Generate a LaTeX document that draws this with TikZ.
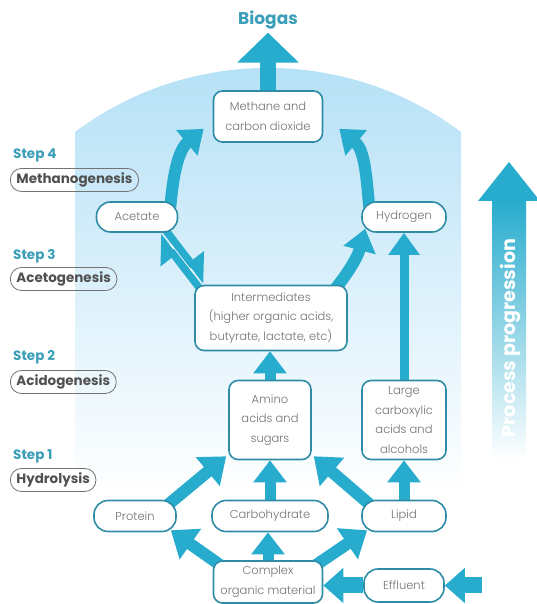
\documentclass[tikz,border=0pt]{standalone}
\usepackage{fontspec}
\setmainfont{Poppins}
\newfontfamily\lightfont{Poppins Light}
\usetikzlibrary{arrows.meta,calc}
\definecolor{arrowc}{RGB}{40,172,206}
\definecolor{boxc}{RGB}{46,140,166}
\definecolor{bgblue}{RGB}{182,225,246}
\definecolor{stepc}{RGB}{58,158,184}
\definecolor{textc}{RGB}{115,115,115}
\definecolor{labelc}{RGB}{80,80,80}
\pgfdeclarelayer{back}
\pgfdeclarelayer{bg}
\pgfsetlayers{back,bg,main}
\begin{document}
\begin{tikzpicture}[x=1pt,y=1pt,
    box/.style={draw=boxc, line width=1.6pt, fill=white, rounded corners=9pt,
      align=center, text=textc, inner sep=0pt,
      font=\lightfont\fontsize{11.5}{19.5}\selectfont},
    pill/.style={box, rounded corners=14pt},
    flow/.style={draw=arrowc, line width=11pt, -{Triangle[width=32pt,length=22pt]}},
    diag/.style={flow, line width=12pt, -{Triangle[width=36pt,length=24pt]}},
    half/.style={draw=arrowc, line width=7.5pt, -{Triangle[left,width=34pt,length=22pt]}},
    steptext/.style={anchor=west, text=stepc, inner sep=0pt, font=\bfseries\fontsize{13.5}{15}\selectfont},
    stagebox/.style={draw=labelc!80, line width=0.8pt, rounded corners=11pt, anchor=west,
      text=labelc, minimum height=23pt, inner xsep=6pt, inner ysep=0pt,
      font=\bfseries\fontsize{13.5}{15}\selectfont}]
  \useasboundingbox (0,0) rectangle (536,604);
  \begin{pgfonlayer}{back}
    \begin{scope}
      \clip (75,0) rectangle (461,604);
      \clip (268,213) circle (323);
      \shade[top color=bgblue, middle color=bgblue!75, bottom color=white] (75,110) rectangle (461,536);
    \end{scope}
  \end{pgfonlayer}

  \node[font=\bfseries\fontsize{17}{19}\selectfont, text=stepc] (biogas) at (268,584) {Biogas};
  \node[box, minimum width=109pt, minimum height=51pt] (methane) at (268,487.5) {Methane and\\carbon dioxide};
  \node[pill, minimum width=81pt, minimum height=30pt] (acetate) at (137,387) {Acetate};
  \node[pill, minimum width=84pt, minimum height=30pt] (hydrogen) at (404,387) {Hydrogen};
  \node[box, minimum width=152pt, minimum height=65pt] (inter) at (271,286) {Intermediates\\(higher organic acids,\\butyrate, lactate, etc)};
  \node[box, minimum width=82pt, minimum height=79pt] (amino) at (270,184) {Amino\\acids and\\sugars};
  \node[box, minimum width=84pt, minimum height=79pt] (large) at (404,184) {Large\\carboxylic\\acids and\\alcohols};
  \node[pill, minimum width=82pt, minimum height=31pt] (protein) at (135,88) {Protein};
  \node[pill, minimum width=116pt, minimum height=31pt] (carbo) at (270,88) {Carbohydrate};
  \node[pill, minimum width=84pt, minimum height=31pt] (lipid) at (404,88) {Lipid};
  \node[box, minimum width=109pt, minimum height=42pt] (complex) at (268,22) {Complex\\organic material};
  \node[pill, minimum width=80pt, minimum height=33pt] (effluent) at (404,18.5) {Effluent};
  \coordinate (feed) at (482,18.5);

  \node[steptext] (s4) at (13,449) {Step 4};
  \node[stagebox] (methano) at (10,424) {Methanogenesis};
  \node[steptext] (s3) at (13,348) {Step 3};
  \node[stagebox] (aceto) at (10,325) {Acetogenesis};
  \node[steptext] (s2) at (13,247) {Step 2};
  \node[stagebox] (acido) at (10,222) {Acidogenesis};
  \node[steptext] (s1) at (13,148) {Step 1};
  \node[stagebox] (hydro) at (10,124) {Hydrolysis};

  \shade[top color=arrowc, middle color=arrowc!85, bottom color=white] (492,144) rectangle (526,404);
  \fill[arrowc] (478,403) -- (540,403) -- (509,442) -- cycle;
  \node[rotate=90, text=white, font=\bfseries\fontsize{19}{21}\selectfont] (progress) at (510,266) {Process progression};

  \begin{pgfonlayer}{bg}
    \draw[flow, line width=16pt, -{Triangle[width=60pt,length=30pt]}] (methane.north) -- (methane.north |- biogas.south);
    \draw[flow, line width=12pt] ([shift={(-8,-6)}]acetate.north east) to[out=85,in=-140] ([shift={(-9,14)}]methane.south west);
    \draw[flow, line width=12pt] ([shift={(8,-6)}]hydrogen.north west) to[out=95,in=-40] ([shift={(16,14)}]methane.south east);
    \coordinate (ia) at ([xshift=8pt]inter.north west);
    \coordinate (ai) at ([xshift=-16pt]acetate.south east);
    \draw[white, line width=16pt, shorten <=14pt, shorten >=14pt] (ia) -- (ai);
    \draw[half] ($(ia)!4.25pt!90:(ai)$) -- ($(ai)!4.25pt!-90:(ia)$);
    \draw[half] ($(ai)!4.25pt!90:(ia)$) -- ($(ia)!4.25pt!-90:(ai)$);
    \draw[flow, line width=12pt] ([shift={(-14,-6)}]inter.north east) to[bend right=12] ([shift={(4,4)}]hydrogen.south west);
    \draw[flow, line width=9pt, -{Triangle[width=30pt,length=22pt]}] (large.north) -- (large.north |- hydrogen.south);
    \foreach \a/\b in {amino/inter, carbo/amino, lipid/large, complex/carbo}{
      \draw[flow] (\a.north) -- (\a.north |- \b.south);
    }
    \draw[diag] ([shift={(-10,-6)}]protein.north east) -- ([shift={(-2,4)}]amino.south west);
    \draw[diag] ([shift={(10,-6)}]lipid.north west) -- ([shift={(2,4)}]amino.south east);
    \draw[diag] ([shift={(12,-8)}]complex.north west) -- ([shift={(-6,2)}]protein.south east);
    \draw[diag] ([shift={(-12,-8)}]complex.north east) -- ([shift={(6,2)}]lipid.south west);
    \draw[flow, line width=16pt, -{Triangle[width=34pt,length=20pt]}] (effluent.west) -- (effluent.west -| complex.east);
    \draw[flow, line width=16pt, -{Triangle[width=34pt,length=20pt]}] (feed) -- (effluent.east);
  \end{pgfonlayer}
\end{tikzpicture}
\end{document}
